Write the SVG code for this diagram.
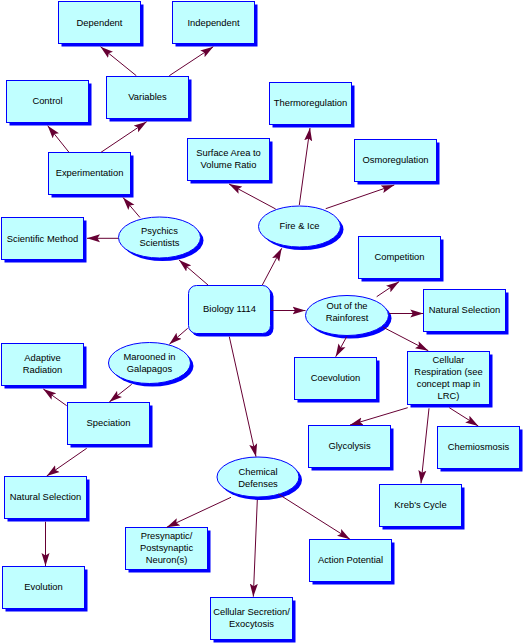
<svg xmlns="http://www.w3.org/2000/svg" width="524" height="644" viewBox="0 0 524 644">
<style>
.sh{fill:#0000ff;stroke:none}
.bx{fill:#c0ffff;stroke:#0000ff;stroke-width:1}
text{font-family:"Liberation Sans",Arial,sans-serif;font-size:9.4px;fill:#000;text-anchor:middle}
.c line{stroke:#660033;stroke-width:1;marker-end:url(#ah)}
</style>
<defs>
<marker id="ah" markerUnits="userSpaceOnUse" markerWidth="14" markerHeight="9" refX="13" refY="4.5" orient="auto" viewBox="0 0 14 9">
<path d="M13,4.5 L0,0.5 L2.5,4.5 L0,8.5 Z" fill="#660033"/>
</marker>
</defs>
<rect width="524" height="644" fill="#fff"/>

<g id="dependent"><rect class="sh" x="61.5" y="4.5" width="82" height="42"/><rect class="bx" x="58.5" y="1.5" width="82" height="42"/><text x="99.5" y="25.8">Dependent</text></g>
<g id="independent"><rect class="sh" x="175.5" y="4.5" width="82" height="42"/><rect class="bx" x="172.5" y="1.5" width="82" height="42"/><text x="213.5" y="25.8">Independent</text></g>
<g id="control"><rect class="sh" x="9.5" y="83.5" width="82" height="42"/><rect class="bx" x="6.5" y="80.5" width="82" height="42"/><text x="47.5" y="104.3">Control</text></g>
<g id="variables"><rect class="sh" x="109.5" y="79.5" width="82" height="42"/><rect class="bx" x="106.5" y="76.5" width="82" height="42"/><text x="147.5" y="100.3">Variables</text></g>
<g id="experimentation"><rect class="sh" x="51.5" y="155.5" width="82" height="42"/><rect class="bx" x="48.5" y="152.5" width="82" height="42"/><text x="89.5" y="176.3">Experimentation</text></g>
<g id="surface-area"><rect class="sh" x="190.5" y="141.5" width="82" height="42"/><rect class="bx" x="187.5" y="138.5" width="82" height="42"/><text x="228.5" y="156">Surface Area to</text><text x="228.5" y="168">Volume Ratio</text></g>
<g id="thermoregulation"><rect class="sh" x="272.5" y="85.5" width="82" height="42"/><rect class="bx" x="269.5" y="82.5" width="82" height="42"/><text x="310.5" y="106.3">Thermoregulation</text></g>
<g id="osmoregulation"><rect class="sh" x="357.5" y="142.5" width="82" height="42"/><rect class="bx" x="354.5" y="139.5" width="82" height="42"/><text x="395.5" y="163.3">Osmoregulation</text></g>
<g id="fire-ice"><ellipse class="sh" cx="302.5" cy="229.5" rx="41" ry="20.5"/><ellipse class="bx" cx="299.5" cy="226.5" rx="41" ry="20.5"/><text x="299.5" y="229">Fire &amp; Ice</text></g>
<g id="psychics"><ellipse class="sh" cx="162.5" cy="240.5" rx="41" ry="20.5"/><ellipse class="bx" cx="159.5" cy="237.5" rx="41" ry="20.5"/><text x="159.5" y="234">Psychics</text><text x="159.5" y="246">Scientists</text></g>
<g id="scientific-method"><rect class="sh" x="4.5" y="220.5" width="82" height="42"/><rect class="bx" x="1.5" y="217.5" width="82" height="42"/><text x="42.5" y="241.5">Scientific Method</text></g>
<g id="competition"><rect class="sh" x="361.5" y="239.5" width="82" height="42"/><rect class="bx" x="358.5" y="236.5" width="82" height="42"/><text x="399.5" y="260.3">Competition</text></g>
<g id="biology"><rect class="sh" x="191.5" y="288.5" width="82" height="48" rx="8"/><rect class="bx" x="188.5" y="285.5" width="82" height="48" rx="8"/><text x="229.5" y="312">Biology 1114</text></g>
<g id="rainforest"><ellipse class="sh" cx="350" cy="318.5" rx="41.5" ry="20"/><ellipse class="bx" cx="347" cy="315.5" rx="41.5" ry="20"/><text x="347" y="309.3">Out of the</text><text x="347" y="321">Rainforest</text></g>
<g id="natural-selection-right"><rect class="sh" x="426.5" y="292.5" width="82" height="42"/><rect class="bx" x="423.5" y="289.5" width="82" height="42"/><text x="464.5" y="313.3">Natural Selection</text></g>
<g id="coevolution"><rect class="sh" x="297.5" y="360.5" width="82" height="42"/><rect class="bx" x="294.5" y="357.5" width="82" height="42"/><text x="335.5" y="381.3">Coevolution</text></g>
<g id="cellular-respiration"><rect class="sh" x="410.5" y="354.5" width="82" height="53"/><rect class="bx" x="407.5" y="351.5" width="82" height="53"/><text x="448.5" y="362.8">Cellular</text><text x="448.5" y="375">Respiration (see</text><text x="448.5" y="387">concept map in</text><text x="448.5" y="399">LRC)</text></g>
<g id="glycolysis"><rect class="sh" x="311.5" y="428.5" width="82" height="42"/><rect class="bx" x="308.5" y="425.5" width="82" height="42"/><text x="349.5" y="449.3">Glycolysis</text></g>
<g id="chemiosmosis"><rect class="sh" x="440.5" y="429.5" width="82" height="42"/><rect class="bx" x="437.5" y="426.5" width="82" height="42"/><text x="478.5" y="450.3">Chemiosmosis</text></g>
<g id="krebs"><rect class="sh" x="382.5" y="487.5" width="82" height="42"/><rect class="bx" x="379.5" y="484.5" width="82" height="42"/><text x="420.5" y="508.3">Kreb's Cycle</text></g>
<g id="marooned"><ellipse class="sh" cx="152.5" cy="366" rx="41" ry="20.5"/><ellipse class="bx" cx="149.5" cy="363" rx="41" ry="20.5"/><text x="149.5" y="360">Marooned in</text><text x="149.5" y="372">Galapagos</text></g>
<g id="adaptive-radiation"><rect class="sh" x="4.5" y="346.5" width="82" height="42"/><rect class="bx" x="1.5" y="343.5" width="82" height="42"/><text x="42.5" y="361">Adaptive</text><text x="42.5" y="372.6">Radiation</text></g>
<g id="speciation"><rect class="sh" x="70.5" y="405.5" width="82" height="42"/><rect class="bx" x="67.5" y="402.5" width="82" height="42"/><text x="108.5" y="426.3">Speciation</text></g>
<g id="natural-selection-left"><rect class="sh" x="7.5" y="479.5" width="82" height="42"/><rect class="bx" x="4.5" y="476.5" width="82" height="42"/><text x="45.5" y="500.3">Natural Selection</text></g>
<g id="evolution"><rect class="sh" x="5.5" y="569.5" width="82" height="42"/><rect class="bx" x="2.5" y="566.5" width="82" height="42"/><text x="43.5" y="590.3">Evolution</text></g>
<g id="chemical-defenses"><ellipse class="sh" cx="261" cy="480" rx="41" ry="20"/><ellipse class="bx" cx="258" cy="477" rx="41" ry="20"/><text x="258" y="475.3">Chemical</text><text x="258" y="487">Defenses</text></g>
<g id="presynaptic"><rect class="sh" x="128.5" y="530.5" width="82" height="42"/><rect class="bx" x="125.5" y="527.5" width="82" height="42"/><text x="166.5" y="539.3">Presynaptic/</text><text x="166.5" y="551">Postsynaptic</text><text x="166.5" y="562.6">Neuron(s)</text></g>
<g id="action-potential"><rect class="sh" x="312.5" y="542.5" width="82" height="42"/><rect class="bx" x="309.5" y="539.5" width="82" height="42"/><text x="350.5" y="563.3">Action Potential</text></g>
<g id="cellular-secretion"><rect class="sh" x="213.5" y="600.5" width="82" height="42"/><rect class="bx" x="210.5" y="597.5" width="82" height="42"/><text x="251.5" y="615">Cellular Secretion/</text><text x="251.5" y="626.6">Exocytosis</text></g>

<g id="connectors" class="c">
<line x1="136.3" y1="75.7" x2="100.5" y2="46.7"/>
<line x1="169.3" y1="75.7" x2="213.3" y2="46.7"/>
<line x1="69" y1="152.3" x2="47.7" y2="125.7"/>
<line x1="101" y1="152.3" x2="146.7" y2="121.7"/>
<line x1="140" y1="217.5" x2="123" y2="197.5"/>
<line x1="118.5" y1="238.3" x2="87" y2="238.3"/>
<line x1="208" y1="285" x2="179" y2="260"/>
<line x1="262.3" y1="285" x2="281.7" y2="248.3"/>
<line x1="275.7" y1="209" x2="229" y2="184"/>
<line x1="299.3" y1="205" x2="310" y2="128"/>
<line x1="325.7" y1="208.7" x2="394.3" y2="185"/>
<line x1="271" y1="310.5" x2="305.5" y2="310.5"/>
<line x1="376.7" y1="296.7" x2="399" y2="281.7"/>
<line x1="389" y1="313.5" x2="423.3" y2="313.5"/>
<line x1="346.7" y1="336.7" x2="335.7" y2="356.7"/>
<line x1="383.3" y1="327.3" x2="428.3" y2="350.7"/>
<line x1="407.7" y1="407.7" x2="350" y2="425"/>
<line x1="449.3" y1="407.7" x2="478.3" y2="426"/>
<line x1="429" y1="408.3" x2="421" y2="483.3"/>
<line x1="187.7" y1="328.3" x2="169.3" y2="344.3"/>
<line x1="131.7" y1="384.3" x2="109.3" y2="402"/>
<line x1="66.7" y1="405.7" x2="43.3" y2="389"/>
<line x1="86.7" y1="448.3" x2="46.7" y2="476"/>
<line x1="45.5" y1="521.7" x2="45.5" y2="566"/>
<line x1="229.3" y1="336.7" x2="256" y2="456.7"/>
<line x1="231" y1="497.3" x2="166.7" y2="527.3"/>
<line x1="257.3" y1="500" x2="253.3" y2="596.7"/>
<line x1="278.3" y1="494" x2="350" y2="539.3"/>
</g>
</svg>
